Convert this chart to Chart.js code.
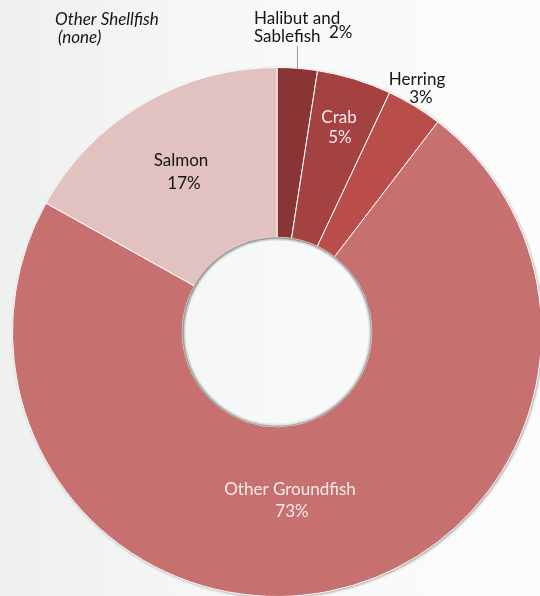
<!DOCTYPE html>
<html>
<head>
<meta charset="utf-8">
<script src="https://cdn.jsdelivr.net/npm/chart.js@4"></script>
<style>
  html, body { margin: 0; padding: 0; width: 540px; height: 596px; overflow: hidden; }
  body { background: linear-gradient(90deg, #eef0f0 0%, #f6f7f7 40%, #fcfcfc 100%); }
  #wrap { position: absolute; left: 0; top: 0; width: 560px; height: 620px; }
</style>
</head>
<body>
<div id="wrap"><canvas id="fish"></canvas></div>
<script>
// share of catch by species group (percent)
const categories = ['Halibut and Sablefish', 'Crab', 'Herring', 'Other Groundfish', 'Salmon', 'Other Shellfish'];
const shares = [2.45, 4.55, 3.4, 72.7, 16.9, 0];
const sliceColors = ['#8a3535', '#a44242', '#b94d4a', '#c77070', '#e2c2c1', '#d9a9a8'];

const pct = v => Math.round(v) + '%';

// rim shadow behind the ring + grey edge round the hole
const ringShadow = {
  id: 'ringShadow',
  beforeDatasetsDraw(chart) {
    const arc = chart.getDatasetMeta(0).data[0];
    const { x, y, outerRadius, innerRadius } = arc.getProps(['x', 'y', 'outerRadius', 'innerRadius'], true);
    const ctx = chart.ctx;
    ctx.save();
    ctx.shadowColor = 'rgba(0,0,0,0.4)';
    ctx.shadowBlur = 3;
    ctx.shadowOffsetX = 1;
    ctx.shadowOffsetY = 1;
    ctx.beginPath();
    ctx.arc(x, y, outerRadius, 0, Math.PI * 2);
    ctx.arc(x, y, innerRadius, 0, Math.PI * 2, true);
    ctx.fillStyle = '#c77070';
    ctx.fill();
    ctx.restore();
  },
  afterDatasetsDraw(chart) {
    const arc = chart.getDatasetMeta(0).data[0];
    const { x, y, innerRadius } = arc.getProps(['x', 'y', 'innerRadius'], true);
    const ctx = chart.ctx;
    ctx.save();
    ctx.beginPath();
    ctx.arc(x, y, innerRadius - 0.5, 0, Math.PI * 2);
    ctx.strokeStyle = 'rgba(110,110,110,0.55)';
    ctx.lineWidth = 1.5;
    ctx.stroke();
    ctx.beginPath();
    ctx.arc(x, y, innerRadius - 2, 0, Math.PI * 2);
    ctx.strokeStyle = 'rgba(150,150,150,0.2)';
    ctx.lineWidth = 2;
    ctx.stroke();
    ctx.restore();
  }
};

// slice labels, placed relative to each arc
const sliceLabels = {
  id: 'sliceLabels',
  afterDatasetsDraw(chart) {
    const ctx = chart.ctx;
    const meta = chart.getDatasetMeta(0);
    const font = '17px Lato, "Open Sans", sans-serif';
    ctx.save();
    ctx.textBaseline = 'alphabetic';

    const put = (txt, x, y, color, align, style) => {
      ctx.font = (style || '') + ' ' + font;
      ctx.fillStyle = color;
      ctx.textAlign = align || 'center';
      ctx.fillText(txt, x, y);
    };

    // Halibut and Sablefish: outside, with leader line
    const hp = meta.data[0].getProps(['x', 'y', 'outerRadius', 'startAngle', 'endAngle'], true);
    const ha = (hp.startAngle + hp.endAngle) / 2;
    const hx = hp.x + Math.cos(ha) * hp.outerRadius;
    ctx.beginPath();
    ctx.moveTo(Math.round(hx) + 0.5, 46);
    ctx.lineTo(Math.round(hx) + 0.5, hp.y - hp.outerRadius + 1);
    ctx.strokeStyle = '#9a9a9a';
    ctx.lineWidth = 1;
    ctx.stroke();
    put('Halibut and', 254, 24, '#151515', 'left');
    put('Sablefish', 254, 42, '#151515', 'left');
    put(pct(shares[0]), 329, 38, '#151515', 'left');

    // Crab: inside
    put(categories[1], 339, 123, '#f6eaea');
    put(pct(shares[1]), 340, 143, '#f6eaea');

    // Herring: outside
    put(categories[2], 417, 85, '#151515');
    put(pct(shares[2]), 421, 103, '#151515');

    // Other Groundfish: inside
    put(categories[3], 290, 495, '#f6eaea');
    put(pct(shares[3]), 292, 517, '#f6eaea');

    // Salmon: inside
    put(categories[4], 181, 166, '#151515');
    put(pct(shares[4]), 184, 189, '#151515');

    // Other Shellfish: zero share
    put(categories[5], 55, 25, '#151515', 'left', 'italic');
    put('(none)', 58, 43, '#151515', 'left', 'italic');
    ctx.restore();
  }
};

new Chart(document.getElementById('fish'), {
  type: 'doughnut',
  data: {
    labels: categories,
    datasets: [{
      data: shares,
      backgroundColor: sliceColors,
      borderColor: '#ffffff',
      borderWidth: 1,
      borderAlign: 'center'
    }]
  },
  options: {
    responsive: true,
    maintainAspectRatio: false,
    animation: false,
    cutout: '35.8%',
    rotation: 0,
    layout: { padding: { left: 12, top: 67, right: 18, bottom: 23 } },
    plugins: {
      legend: { display: false },
      tooltip: { enabled: false }
    }
  },
  plugins: [ringShadow, sliceLabels]
});
</script>
</body>
</html>
